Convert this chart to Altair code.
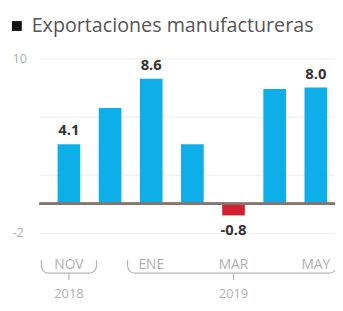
import altair as alt
import pandas as pd

months = ["NOV", "DIC", "ENE", "FEB", "MAR", "ABR", "MAY"]
values = [4.1, 6.6, 8.6, 4.1, -0.8, 7.9, 8.0]
label_months = ["NOV", "ENE", "MAR", "MAY"]
axis_months = ["NOV", "ENE", "MAR", "MAY"]
years = ["2018", "2019"]
year_start = ["NOV", "ENE"]
year_end = ["NOV", "MAY"]
year_mid = ["NOV", "MAR"]
title_text = "Exportaciones manufactureras"

BLUE = "#0eaee8"
RED = "#d3202f"
GREY_TXT = "#b0b0b0"
BR = "#b5b5b5"

df = pd.DataFrame({"mes": months, "valor": values})
df["signo"] = ["neg" if v < 0 else "pos" for v in values]
lab = df[df["mes"].isin(label_months)].copy()
lab["txt"] = [f"{v:.1f}" for v in lab["valor"]]
yrs = pd.DataFrame({"anio": years, "ini": year_start, "fin": year_end, "mid": year_mid})
ttl = pd.DataFrame({"t": [title_text]})

xscale = alt.Scale(domain=months, paddingInner=0.44, paddingOuter=0.31, align=0.7, round=False)
yscale = alt.Scale(domain=[-2, 10], nice=False, zero=False)
X = alt.X("mes:N", scale=xscale, sort=months,
          axis=alt.Axis(values=axis_months, title=None, labelAngle=0, ticks=False,
                        domain=False, labelPadding=25, labelFontSize=14, zindex=1,
                        labelColor=GREY_TXT, labelFont="Open Sans"))
Y = alt.Y("valor:Q", scale=yscale,
          axis=alt.Axis(values=[-2, 0, 2, 4, 6, 8, 10], title=None, ticks=False, tickSize=0,
                        domain=False, labelAlign="left", labelPadding=28,
                        labelExpr="datum.value == 10 ? '10' : datum.value == 0 ? '0' : datum.value == -2 ? '-2' : ''",
                        labelFontSize=13, labelColor=GREY_TXT, labelFont="Open Sans",
                        gridColor="#ececec", gridWidth=1))

bars = alt.Chart(df).mark_bar(size=23).encode(
    x=X, y=Y, y2=alt.datum(0),
    color=alt.Color("signo:N", scale=alt.Scale(domain=["pos", "neg"], range=[BLUE, RED]), legend=None),
)

base = alt.Chart(df).mark_rule(color="#85766e", strokeWidth=2).encode(
    y=alt.datum(0, scale=yscale), x=alt.value(0), x2=alt.value(300)
)

pos_lab = alt.Chart(lab[lab["valor"] >= 0]).mark_text(
    baseline="bottom", dy=-6, fontSize=15, fontWeight="bold", color="#333333", font="Open Sans"
).encode(x=alt.X("mes:N", scale=xscale, sort=months), y=alt.Y("valor:Q", scale=yscale), text="txt:N")

neg_lab = alt.Chart(lab[lab["valor"] < 0]).mark_text(
    baseline="top", dy=8, fontSize=15, fontWeight="bold", color="#333333", font="Open Sans"
).encode(x=alt.X("mes:N", scale=xscale, sort=months), y=alt.Y("valor:Q", scale=yscale), text="txt:N")


def bracket(year, off_l, off_r):
    d = yrs[yrs["anio"] == year]
    xs = alt.X("ini:N", scale=xscale, bandPosition=0.5)
    x2s = alt.X2("fin:N", bandPosition=0.5)
    box = alt.Chart(d).mark_rect(fillOpacity=0, stroke=BR, strokeWidth=1.2,
                                 cornerRadiusBottomLeft=8, cornerRadiusBottomRight=8,
                                 xOffset=off_l, x2Offset=off_r).encode(
        x=xs, x2=x2s, y=alt.value(203), y2=alt.value(218))
    cover = alt.Chart(d).mark_rule(color="white", strokeWidth=3,
                                   xOffset=off_l - 2, x2Offset=off_r + 2).encode(
        x=xs, x2=x2s, y=alt.value(203))
    return [box, cover]


brackets = bracket("2018", -28, 28) + bracket("2019", -24, 21)

tick = alt.Chart(yrs).mark_rule(color=BR, strokeWidth=1.2).encode(
    x=alt.X("mid:N", scale=xscale), y=alt.value(218), y2=alt.value(225)
)
ytxt = alt.Chart(yrs).mark_text(fontSize=13, color=GREY_TXT, font="Open Sans", baseline="middle").encode(
    x=alt.X("mid:N", scale=xscale), y=alt.value(239), text="anio:N"
)
square = alt.Chart(ttl).mark_point(shape="square", filled=True, size=100, color="#111111", opacity=1).encode(
    x=alt.value(-23), y=alt.value(-33)
)
title_mark = alt.Chart(ttl).mark_text(align="left", baseline="middle", fontSize=20, color="#555555",
                                      font="Open Sans").encode(
    x=alt.value(-8), y=alt.value(-33), text="t:N"
)

chart = alt.layer(bars, base, pos_lab, neg_lab, *brackets, tick, ytxt, square, title_mark).properties(
    width=300, height=177,
    autosize=alt.AutoSizeParams(type="none"),
    padding={"left": 32, "top": 49, "right": 0, "bottom": 70},
).configure_view(stroke=None)

chart.save("out.html", embed_options={"renderer": "svg", "actions": False})
